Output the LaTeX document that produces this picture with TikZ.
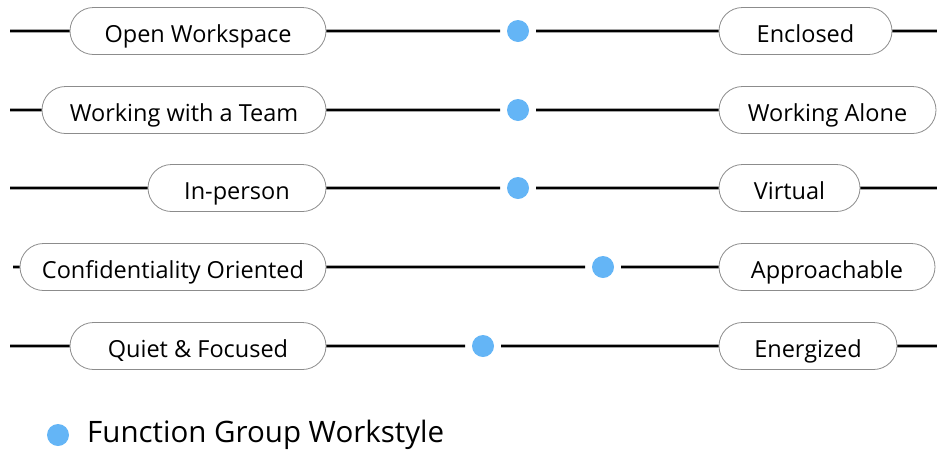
\documentclass[tikz,border=0pt]{standalone}
\usepackage{fontspec}
\setmainfont{Open Sans}
\usetikzlibrary{positioning, shapes.misc}
\definecolor{dotblue}{RGB}{100,181,246}
\definecolor{pillgray}{RGB}{140,140,140}
\tikzset{
    pill/.style={
        draw = pillgray, line width = 0.8pt,
        rounded rectangle, fill = white,
        minimum height = 47pt, inner sep = 0pt,
        text height = 24pt, text depth = 2pt,
        font = \fontsize{23.5}{28}\selectfont
    },
    marker/.style = {circle, fill = dotblue, minimum size = 22pt, inner sep = 0pt, outer sep = 7pt},
    axis/.style = {line width = 2.7pt, black}
}

\begin{document}
\begin{tikzpicture}[x=1pt, y=-1pt]

    \useasboundingbox (0,0) rectangle (937,456);

    % Row 1
    \coordinate (l1) at (10,31);
    \node[pill, minimum width = 256pt] (a1) at (198,31) {Open Workspace};
    \node[marker] (m1) at (518,31) {};
    \node[pill, minimum width = 173pt] (b1) at (805.5,31) {Enclosed};
    \coordinate (r1) at (937,31);
    \draw[axis] (l1) -- (a1) (a1) -- (m1) (m1) -- (b1) (b1) -- (r1);

    % Row 2
    \coordinate (l2) at (10,110);
    \node[pill, minimum width = 284pt] (a2) at (184,110) {Working with a Team};
    \node[marker] (m2) at (518,110) {};
    \node[pill, minimum width = 217pt] (b2) at (827.5,110) {Working Alone};
    \draw[axis] (l2) -- (a2) (a2) -- (m2) (m2) -- (b2);

    % Row 3
    \coordinate (l3) at (10,188);
    \node[pill, minimum width = 178pt] (a3) at (237,188) {In-person};
    \node[marker] (m3) at (518,188) {};
    \node[pill, minimum width = 141pt] (b3) at (789.5,188) {Virtual};
    \coordinate (r3) at (937,188);
    \draw[axis] (l3) -- (a3) (a3) -- (m3) (m3) -- (b3) (b3) -- (r3);

    % Row 4
    \coordinate (l4) at (13,267);
    \node[pill, minimum width = 306pt] (a4) at (173,267) {Confidentiality Oriented};
    \node[marker] (m4) at (603,267) {};
    \node[pill, minimum width = 216pt] (b4) at (827,267) {Approachable};
    \draw[axis] (l4) -- (a4) (a4) -- (m4) (m4) -- (b4);

    % Row 5
    \coordinate (l5) at (10,346);
    \node[pill, minimum width = 256pt] (a5) at (198,346) {Quiet \& Focused};
    \node[marker] (m5) at (483,346) {};
    \node[pill, minimum width = 178pt] (b5) at (808,346) {Energized};
    \coordinate (r5) at (937,346);
    \draw[axis] (l5) -- (a5) (a5) -- (m5) (m5) -- (b5) (b5) -- (r5);

    % Legend
    \node[marker, outer sep = 0pt] (key) at (58,435) {};
    \node[right = 18pt of key, inner sep = 0pt, font = \fontsize{29.5}{34}\selectfont] (keytext) {Function Group Workstyle};

\end{tikzpicture}
\end{document}
